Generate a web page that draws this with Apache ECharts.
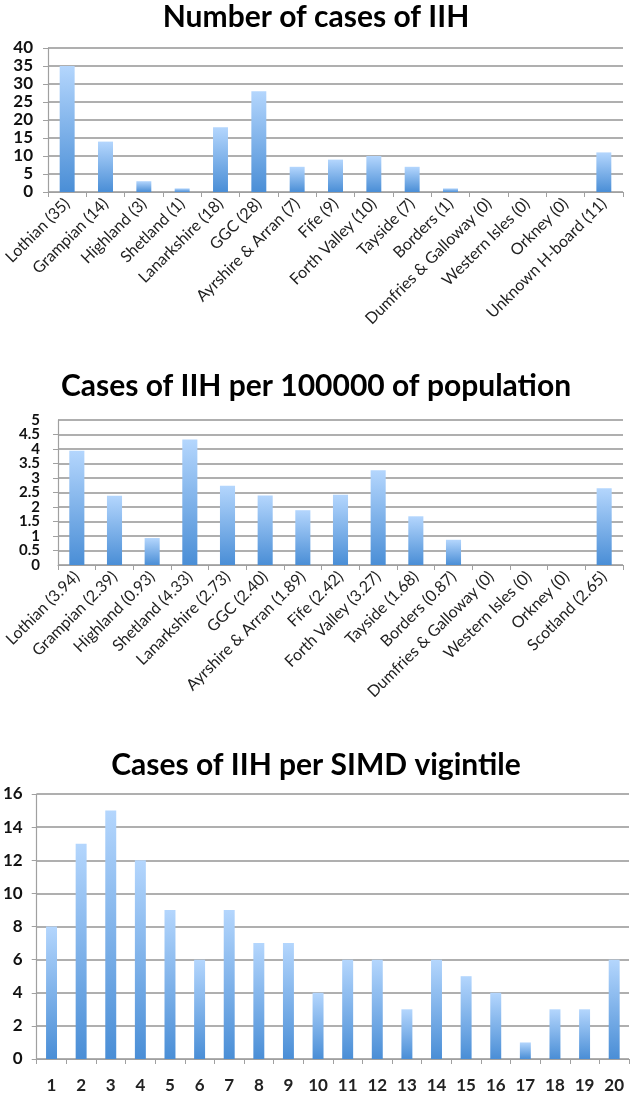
<!DOCTYPE html>
<html>
<head>
<meta charset="utf-8">
<script src="https://cdn.jsdelivr.net/npm/echarts@6/dist/echarts.min.js"></script>
<style>
html,body{margin:0;padding:0;background:#fff;}
#c{width:632px;height:1094px;}
</style>
</head>
<body>
<div id="c"></div>
<script>
// ---- Data ----
var boards1 = ['Lothian','Grampian','Highland','Shetland','Lanarkshire','GGC','Ayrshire & Arran','Fife','Forth Valley','Tayside','Borders','Dumfries & Galloway','Western Isles','Orkney','Unknown H-board'];
var cases1 = [35,14,3,1,18,28,7,9,10,7,1,0,0,0,11];
var labels1 = ['Lothian (35)','Grampian (14)','Highland (3)','Shetland (1)','Lanarkshire (18)','GGC (28)','Ayrshire & Arran (7)','Fife (9)','Forth Valley (10)','Tayside (7)','Borders (1)','Dumfries & Galloway (0)','Western Isles (0)','Orkney (0)','Unknown H-board (11)'];

var boards2 = ['Lothian','Grampian','Highland','Shetland','Lanarkshire','GGC','Ayrshire & Arran','Fife','Forth Valley','Tayside','Borders','Dumfries & Galloway','Western Isles','Orkney','Scotland'];
var rate2 = [3.94,2.39,0.93,4.33,2.73,2.40,1.89,2.42,3.27,1.68,0.87,0,0,0,2.65];
var labels2 = ['Lothian (3.94)','Grampian (2.39)','Highland (0.93)','Shetland (4.33)','Lanarkshire (2.73)','GGC (2.40)','Ayrshire & Arran (1.89)','Fife (2.42)','Forth Valley (3.27)','Tayside (1.68)','Borders (0.87)','Dumfries & Galloway (0)','Western Isles (0)','Orkney (0)','Scotland (2.65)'];

var vigintiles = ['1','2','3','4','5','6','7','8','9','10','11','12','13','14','15','16','17','18','19','20'];
var cases3 = [8,13,15,12,9,6,9,7,7,4,6,6,3,6,5,4,1,3,3,6];

var titles = ['Number of cases of IIH','Cases of IIH per 100000 of population','Cases of IIH per SIMD vigintile'];

// ---- Styles ----
var FONT = 'Lato, "Open Sans", sans-serif';
var grad = {type:'linear',x:0,y:0,x2:0,y2:1,colorStops:[{offset:0,color:'#b4d6fd'},{offset:1,color:'#4a8ed6'}]};
var gridColor = '#949494';

function yAxis(idx, max, interval, fs, margin, lh, showEnds){
  return {
    type:'value', gridIndex:idx, min:0, max:max, interval:interval, position:'left',
    axisLine:{show:true,lineStyle:{color:'#a0a0a0',width:1.2}},
    axisTick:{show:true,length:5,lineStyle:{color:'#a0a0a0'}},
    splitLine:{show:true,lineStyle:{color:gridColor,width:1.5}},
    axisLabel:{color:'#111',fontFamily:FONT,fontSize:fs,fontWeight:'bold',margin:margin,lineHeight:lh,
      showMinLabel:showEnds,showMaxLabel:showEnds}
  };
}
function xAxis(idx, data, rotate, fs, margin, weight){
  return {
    type:'category', gridIndex:idx, data:data,
    axisLine:{show:true,lineStyle:{color:'#a0a0a0',width:1.2}},
    axisTick:{show:true,length:5,alignWithLabel:false,lineStyle:{color:'#a0a0a0'}},
    axisLabel:{color:'#222',fontFamily:FONT,fontSize:fs,rotate:rotate,interval:0,margin:margin,fontWeight:weight}
  };
}
// endpoint-only label axis for chart 2 (0 and 5), labels only
var yEnds2 = {
  type:'value', gridIndex:1, min:0, max:5, interval:5, position:'left', offset:0,
  axisLine:{show:false}, axisTick:{show:false}, splitLine:{show:false},
  axisLabel:{color:'#111',fontFamily:FONT,fontSize:15,fontWeight:'bold',margin:18,lineHeight:12,
    showMinLabel:true,showMaxLabel:true}
};

var titleStyle = {fontFamily:FONT,fontSize:30,fontWeight:'bold',color:'#000'};
var chart = echarts.init(document.getElementById('c'), null, {renderer:'canvas'});
chart.setOption({
  animation:false,
  backgroundColor:'#fff',
  title:[
    {text:titles[0],left:'center',top:-3,textStyle:titleStyle},
    {text:titles[1],left:'center',top:366,textStyle:titleStyle},
    {text:titles[2],left:'center',top:745,textStyle:titleStyle}
  ],
  grid:[
    {left:48,right:9,top:48,height:144},
    {left:58,right:9,top:420,height:145},
    {left:35,right:3,top:794,height:269}
  ],
  xAxis:[
    xAxis(0, labels1, 45, 16, 9, 'normal'),
    xAxis(1, labels2, 45, 16, 9, 'normal'),
    xAxis(2, vigintiles, 0, 17, 18, 'bold')
  ],
  yAxis:[
    yAxis(0, 40, 5, 17, 15, 15, true),
    yAxis(1, 5, 0.5, 15, 18, 12, false),
    yAxis(2, 16, 2, 17, 14, 15, true),
    yEnds2
  ],
  series:[
    {type:'bar',xAxisIndex:0,yAxisIndex:0,data:cases1,barWidth:'39%',itemStyle:{color:grad}},
    {type:'bar',xAxisIndex:1,yAxisIndex:1,data:rate2,barWidth:'40%',itemStyle:{color:grad}},
    {type:'bar',xAxisIndex:2,yAxisIndex:2,data:cases3,barWidth:'37%',itemStyle:{color:grad}}
  ]
});
</script>
</body>
</html>
